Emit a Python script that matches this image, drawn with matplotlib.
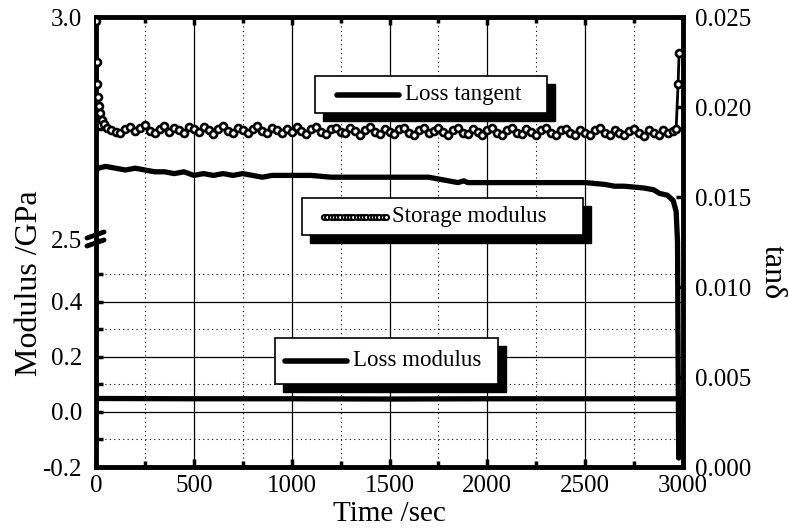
import numpy as np
import matplotlib
matplotlib.use("Agg")
import matplotlib.pyplot as plt
from matplotlib.patches import Rectangle
from matplotlib.lines import Line2D

plt.rcParams['font.family'] = ['Liberation Serif', 'DejaVu Serif']

# storage modulus (GPa), left axis upper part
sm_t = [0, 3, 6, 10, 15, 20, 30, 40, 55, 75, 100] + list(range(125, 2951, 25)) + [2965, 2975, 2980]
sm_v = [2.99, 2.90, 2.85, 2.82, 2.80, 2.785, 2.77, 2.76, 2.752, 2.746, 2.743,
        2.740, 2.749, 2.754, 2.744, 2.751, 2.757, 2.745, 2.739, 2.750, 2.755, 2.743, 2.751, 2.747, 2.740, 2.753, 2.748,
        2.743, 2.754, 2.746, 2.738, 2.750, 2.756, 2.744, 2.741, 2.752, 2.747, 2.739, 2.749, 2.755, 2.744, 2.740, 2.752, 2.746, 2.739, 2.750, 2.743,
        2.753, 2.744, 2.738, 2.749, 2.754, 2.743, 2.737, 2.748, 2.752, 2.742, 2.739, 2.751, 2.745, 2.736, 2.747, 2.753, 2.742, 2.738, 2.749, 2.743,
        2.737, 2.748, 2.752, 2.741, 2.736, 2.747, 2.751, 2.740, 2.744, 2.752, 2.742, 2.736, 2.746, 2.751, 2.740, 2.737, 2.748, 2.742, 2.736, 2.747,
        2.751, 2.740, 2.735, 2.746, 2.752, 2.741, 2.737, 2.748, 2.742, 2.736, 2.747, 2.751, 2.739, 2.735, 2.746, 2.750, 2.740, 2.736, 2.747, 2.741,
        2.735, 2.746, 2.751, 2.739, 2.736, 2.747, 2.741, 2.735, 2.744, 2.750, 2.739, 2.734, 2.746, 2.740, 2.736, 2.747, 2.741, 2.744,
        2.750, 2.85, 2.92]

# loss tangent, right axis
lt_t = [0, 10, 50, 100, 150, 200, 250, 300, 350, 400, 450, 500, 550, 600, 650, 700, 750, 800, 850, 900,
        1000, 1100, 1200, 1300, 1400, 1500, 1600, 1700, 1750, 1800, 1850, 1880, 1900, 2000, 2100, 2200,
        2300, 2400, 2500, 2600, 2650, 2700, 2800, 2850, 2880, 2920, 2950, 2965, 2972, 2975, 2978]
lt_v = [0.0164, 0.0166, 0.0167, 0.0166, 0.0165, 0.0166, 0.0165, 0.0164, 0.0164, 0.0163, 0.0164, 0.0162,
        0.0163, 0.0162, 0.0163, 0.0162, 0.0163, 0.0162, 0.0161, 0.0162, 0.0162, 0.0162, 0.0161, 0.0161,
        0.0161, 0.0161, 0.0161, 0.0161, 0.0160, 0.0159, 0.0158, 0.0159, 0.0158, 0.0158, 0.0158, 0.0158,
        0.0158, 0.0158, 0.0158, 0.0157, 0.0156, 0.0156, 0.0155, 0.0154, 0.0152, 0.0151, 0.0148, 0.0142,
        0.0125, 0.0060, 0.0005]

# loss modulus (GPa), left axis lower part
lm_t = [0, 500, 1000, 1500, 2000, 2500, 2985]
lm_v = [0.049, 0.048, 0.048, 0.047, 0.048, 0.048, 0.048]

W, H = 789, 529
fig = plt.figure(figsize=(W / 100, H / 100), dpi=100)

L, R, T, B, BRK = 96, 683, 17, 467, 240
def fr(x0, y0, x1, y1):
    return [x0 / W, 1 - y1 / H, (x1 - x0) / W, (y1 - y0) / H]

lw_frame = 3.5
tick_kw = dict(direction='in', width=2.5, color='black', labelsize=18)

# main axes: x axis, frame, tan delta
ax = fig.add_axes(fr(L, T, R, B))
ax.plot(lt_t, lt_v, color='black', lw=3.8, zorder=3, solid_capstyle='round')
ax.set_xlim(0, 3000)
ax.set_ylim(0, 0.025)
ax.set_xticks(range(0, 3001, 500))
ax.set_xticks(range(250, 3000, 500), minor=True)
ax.set_yticks([0, 0.005, 0.010, 0.015, 0.020, 0.025])
ax.set_yticklabels(['0.000', '0.005', '0.010', '0.015', '0.020', '0.025'])
ax.yaxis.tick_right()
ax.tick_params(axis='x', which='major', length=6, top=True, bottom=True, pad=6, **tick_kw)
ax.tick_params(axis='x', which='minor', length=4, top=True, bottom=True, direction='in', width=2.5)
ax.tick_params(axis='y', which='major', length=5, right=True, left=False, pad=9, **tick_kw)
for s in ax.spines.values():
    s.set_linewidth(lw_frame)
for x in range(500, 3000, 500):
    ax.axvline(x, color='black', lw=0.9, zorder=1)
for x in range(250, 3000, 500):
    ax.axvline(x, color='black', lw=0.8, ls=(0, (1, 3)), zorder=1)

# upper modulus axes
axt = fig.add_axes(fr(L, T, R, BRK), sharex=ax)
axt.patch.set_visible(False)
for s in axt.spines.values():
    s.set_visible(False)
axt.plot(sm_t, sm_v, color='black', lw=2, marker='o', ms=5, mfc='white', mec='black', mew=1.9, zorder=4)
axt.set_ylim(2.5, 3.0)
axt.set_yticks([2.5, 3.0])
axt.set_yticklabels(['2.5', '3.0'])
axt.set_yticks([2.75], minor=True)
axt.tick_params(axis='y', which='major', length=5, pad=10, **tick_kw)
axt.tick_params(axis='y', which='minor', length=5, width=2.5, direction='in')
axt.tick_params(axis='x', which='both', bottom=False, top=False, labelbottom=False)

# lower modulus axes
axb = fig.add_axes(fr(L, BRK, R, B), sharex=ax)
axb.patch.set_visible(False)
for s in axb.spines.values():
    s.set_visible(False)
axb.plot(lm_t, lm_v, color='black', lw=3.8, zorder=4)
axb.set_ylim(-0.2, 0.625)
axb.set_yticks([-0.2, 0.0, 0.2, 0.4])
axb.set_yticklabels(['-0.2', '0.0', '0.2', '0.4'])
axb.set_yticks([-0.1, 0.1, 0.3, 0.5], minor=True)
axb.tick_params(axis='y', which='major', length=5, pad=10, **tick_kw)
axb.tick_params(axis='y', which='minor', length=5, width=2.5, direction='in')
axb.tick_params(axis='x', which='both', bottom=False, top=False, labelbottom=False)
for y in [0.0, 0.2, 0.4]:
    axb.axhline(y, color='black', lw=0.9, zorder=1)
for y in [-0.1, 0.1, 0.3, 0.5]:
    axb.axhline(y, color='black', lw=0.8, ls=(0, (1, 3)), zorder=1)

fig.text(30 / W, 1 - 283 / H, 'Modulus /GPa', rotation=90, ha='center', va='center', fontsize=23)
fig.text(772 / W, 1 - 272 / H, 'tan\u03b4', rotation=-90, ha='center', va='center', fontsize=23)
fig.text((L + R) / 2 / W, 1 - 514 / H, 'Time /sec', ha='center', va='center', fontsize=21)

# overlay in pixel coords for legend boxes and the axis break mark
ov = fig.add_axes([0, 0, 1, 1])
ov.set_xlim(0, W)
ov.set_ylim(H, 0)
ov.axis('off')

def box(x0, y0, x1, y1, label, kind):
    ov.add_patch(Rectangle((x0 + 8, y0 + 8), x1 - x0, y1 - y0, color='black', zorder=5))
    ov.add_patch(Rectangle((x0, y0), x1 - x0, y1 - y0, facecolor='white', edgecolor='black', lw=1.2, zorder=6))
    ym = (y0 + y1) / 2
    sx0 = x0 + 22 if kind != 'lm' else x0 + 10
    sx1 = sx0 + 62
    if kind == 'sm':
        ov.add_line(Line2D(np.linspace(sx0, sx1, 20), [ym] * 20, color='black', lw=1.5, marker='o',
                           ms=3.6, mfc='white', mec='black', mew=1.5, zorder=7))
    else:
        ov.add_line(Line2D([sx0, sx1], [ym, ym], color='black', lw=4, solid_capstyle='round', zorder=7))
    ov.text(sx1 + 6, ym, label, fontsize=16.5, va='center', ha='left', zorder=7)

box(315, 76, 547, 113, 'Loss tangent', 'lt')
box(302, 198, 583, 235, 'Storage modulus', 'sm')
box(275, 338, 498, 384, 'Loss modulus', 'lm')

# break mark on the left axis
ov.add_line(Line2D([87, 104], [238, 232], color='black', lw=3.5, zorder=8, solid_capstyle='round'))
ov.add_line(Line2D([87, 104], [246, 240], color='black', lw=3.5, zorder=8, solid_capstyle='round'))

fig.savefig('out.png', dpi=100)
